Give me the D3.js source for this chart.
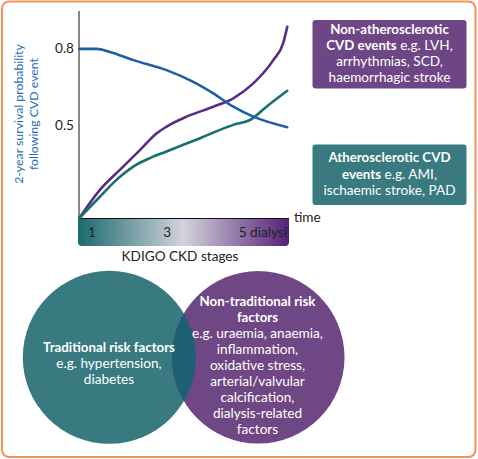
<!DOCTYPE html>
<html><head><meta charset="utf-8">
<script src="https://cdn.jsdelivr.net/npm/d3@7"></script>
<style>
body{margin:0;background:#fff;}
svg{display:block;font-family:Lato,"Open Sans",sans-serif;}
</style></head>
<body><svg id="c" width="478" height="459"></svg>
<script>
// ---- data ----
const stageTicks = [1, 3, 5];
const stageLabels = ["1", "3", "5 dialysis"];
const yTicks = [0.5, 0.8];
const blueX = [0.67, 1.13, 1.48, 2.10, 2.98, 3.69, 4.22, 4.75, 5.28, 6.18];
const blueY = [0.80, 0.80, 0.788, 0.756, 0.717, 0.671, 0.626, 0.574, 0.535, 0.494];
const purpleX = [0.67, 1.22, 1.75, 2.28, 2.72, 2.98, 3.51, 4.22, 4.75, 5.28, 5.81, 6.07, 6.18];
const purpleY = [0.139, 0.250, 0.328, 0.405, 0.470, 0.496, 0.535, 0.574, 0.607, 0.665, 0.756, 0.821, 0.886];
const tealX = [0.67, 1.22, 1.66, 2.10, 2.54, 2.98, 3.87, 4.75, 5.19, 5.63, 6.18];
const tealY = [0.139, 0.223, 0.289, 0.340, 0.373, 0.399, 0.451, 0.503, 0.522, 0.574, 0.636];
const yTitle = ["2-year survival probability", "following CVD event"];
const box1 = [{t:"Non-atherosclerotic", b:true}, {t:"CVD events", b:true, rest:" e.g. LVH,"}, {t:"arrhythmias, SCD,"}, {t:"haemorrhagic stroke"}];
const box2 = [{t:"Atherosclerotic CVD", b:true}, {t:"events", b:true, rest:" e.g. AMI,"}, {t:"ischaemic stroke, PAD"}];
const circle1Text = [{t:"Traditional risk factors", b:true}, {t:"e.g. hypertension,"}, {t:"diabetes"}];
const circle2Text = [{t:"Non-traditional risk", b:true}, {t:"factors", b:true}, {t:"e.g. uraemia, anaemia,"}, {t:"inflammation,"}, {t:"oxidative stress,"}, {t:"arterial/valvular"}, {t:"calcification,"}, {t:"dialysis-related"}, {t:"factors"}];

// ---- drawing ----
const svg = d3.select("#c");
const C = {blue:"#1d5fa0", purple:"#5b2c82", teal:"#15706f", boxP:"#6e4686", boxT:"#387a80",
           circT:"#387a80", circP:"#6f4785", overlap:"#1c6072", orange:"#f0945a"};

svg.append("rect").attr("x",2).attr("y",1.5).attr("width",473.5).attr("height",455.5)
  .attr("rx",7).attr("fill","none").attr("stroke",C.orange).attr("stroke-width",2);

const x = d3.scaleLinear().domain([0.66, 6.2]).range([79, 288]);
const y = d3.scaleLinear().domain([0.139, 0.948]).range([218, 11]);

// gradient bar
const defs = svg.append("defs");
const g = defs.append("linearGradient").attr("id","grad").attr("x1","0").attr("x2","1").attr("y1","0").attr("y2","0");
g.append("stop").attr("offset","0").attr("stop-color","#1a6a6e");
g.append("stop").attr("offset","0.5").attr("stop-color","#d3d3db");
g.append("stop").attr("offset","1").attr("stop-color","#55207a");
const bx0 = x(0.66)-1, bx1 = x(6.2)+1, by0 = 219, by1 = 246, r=4;
defs.append("clipPath").attr("id","barclip").append("rect").attr("x",bx0).attr("y",by0).attr("width",bx1-bx0).attr("height",by1-by0);
svg.append("path").attr("fill","url(#grad)")
  .attr("d",`M${bx0},${by0}H${bx1}V${by1-r}Q${bx1},${by1} ${bx1-r},${by1}H${bx0+r}Q${bx0},${by1} ${bx0},${by1-r}Z`);

svg.append("g").attr("clip-path","url(#barclip)").selectAll("text").data(stageTicks).join("text")
  .attr("x", (d,i)=> i===2 ? x(d)-4 : x(d)).attr("y",236.5)
  .attr("text-anchor",(d,i)=> i===2 ? "start":"middle")
  .attr("font-size",13.6).attr("fill","#222")
  .text((d,i)=>stageLabels[i]);

// axes
svg.append("line").attr("x1",79).attr("x2",79).attr("y1",11).attr("y2",218.5).attr("stroke","#111").attr("stroke-width",1);
svg.append("line").attr("x1",79).attr("x2",289).attr("y1",218.5).attr("y2",218.5).attr("stroke","#111").attr("stroke-width",1);
svg.append("g").selectAll("text").data(yTicks).join("text")
  .attr("x",74).attr("y",d=>y(d)+4.5).attr("text-anchor","end").attr("font-size",13.6).attr("fill","#222")
  .text(d=>d3.format(".1f")(d));
svg.append("text").attr("x",294).attr("y",222).attr("font-size",13.6).attr("fill","#222").text("time");
svg.append("text").attr("x",180).attr("y",261).attr("text-anchor","middle").attr("font-size",13.6).attr("fill","#222").text("KDIGO CKD stages");

const yt = svg.append("text").attr("transform","translate(0,114) rotate(-90)").attr("text-anchor","middle")
  .attr("font-size",12.3).attr("fill","#2a6db0");
yTitle.forEach((t,i)=> yt.append("tspan").attr("x",0).attr("y", 22.5 + i*15.5).text(t));

// lines
const line = d3.line().x(d=>x(d[0])).y(d=>y(d[1])).curve(d3.curveMonotoneX);
const series = [
  {xs:purpleX, ys:purpleY, c:C.purple},
  {xs:tealX, ys:tealY, c:C.teal},
  {xs:blueX, ys:blueY, c:C.blue}
];
series.forEach(s=>{
  svg.append("path").datum(s.xs.map((v,i)=>[v, s.ys[i]]))
    .attr("d",line).attr("fill","none").attr("stroke",s.c).attr("stroke-width",2.6).attr("stroke-linecap","round");
});

// text helper
function block(lines, cx, y0, lh){
  const t = svg.append("text").attr("text-anchor","middle").attr("fill","#fff");
  lines.forEach((l,i)=>{
    t.append("tspan").attr("x",cx).attr("y",y0+i*lh)
      .attr("font-weight", l.b?700:400).attr("font-size", l.b?13.3:13.6).text(l.t);
    if(l.rest) t.append("tspan").attr("font-weight",400).attr("font-size",13.6).text(l.rest);
  });
}

// boxes
svg.append("rect").attr("x",312.5).attr("y",20).attr("width",154).attr("height",68.5).attr("rx",3).attr("fill",C.boxP);
block(box1, 389.5, 34, 16);
svg.append("rect").attr("x",312.5).attr("y",144.5).attr("width",154).attr("height",60.5).attr("rx",3).attr("fill",C.boxT);
block(box2, 389.5, 162, 16.7);

// venn circles
const c1 = {cx:109.3, cy:357.3, r:86.5}, c2 = {cx:258.2, cy:357.3, r:86.3};
defs.append("clipPath").attr("id","clip1").append("circle").attr("cx",c1.cx).attr("cy",c1.cy).attr("r",c1.r);
svg.append("circle").attr("cx",c1.cx).attr("cy",c1.cy).attr("r",c1.r).attr("fill",C.circT);
svg.append("circle").attr("cx",c2.cx).attr("cy",c2.cy).attr("r",c2.r).attr("fill",C.circP);
svg.append("circle").attr("cx",c2.cx).attr("cy",c2.cy).attr("r",c2.r).attr("fill",C.overlap).attr("clip-path","url(#clip1)");

block(circle1Text, 109, 352, 16);
block(circle2Text, 257.5, 306, 16);
</script></body></html>
